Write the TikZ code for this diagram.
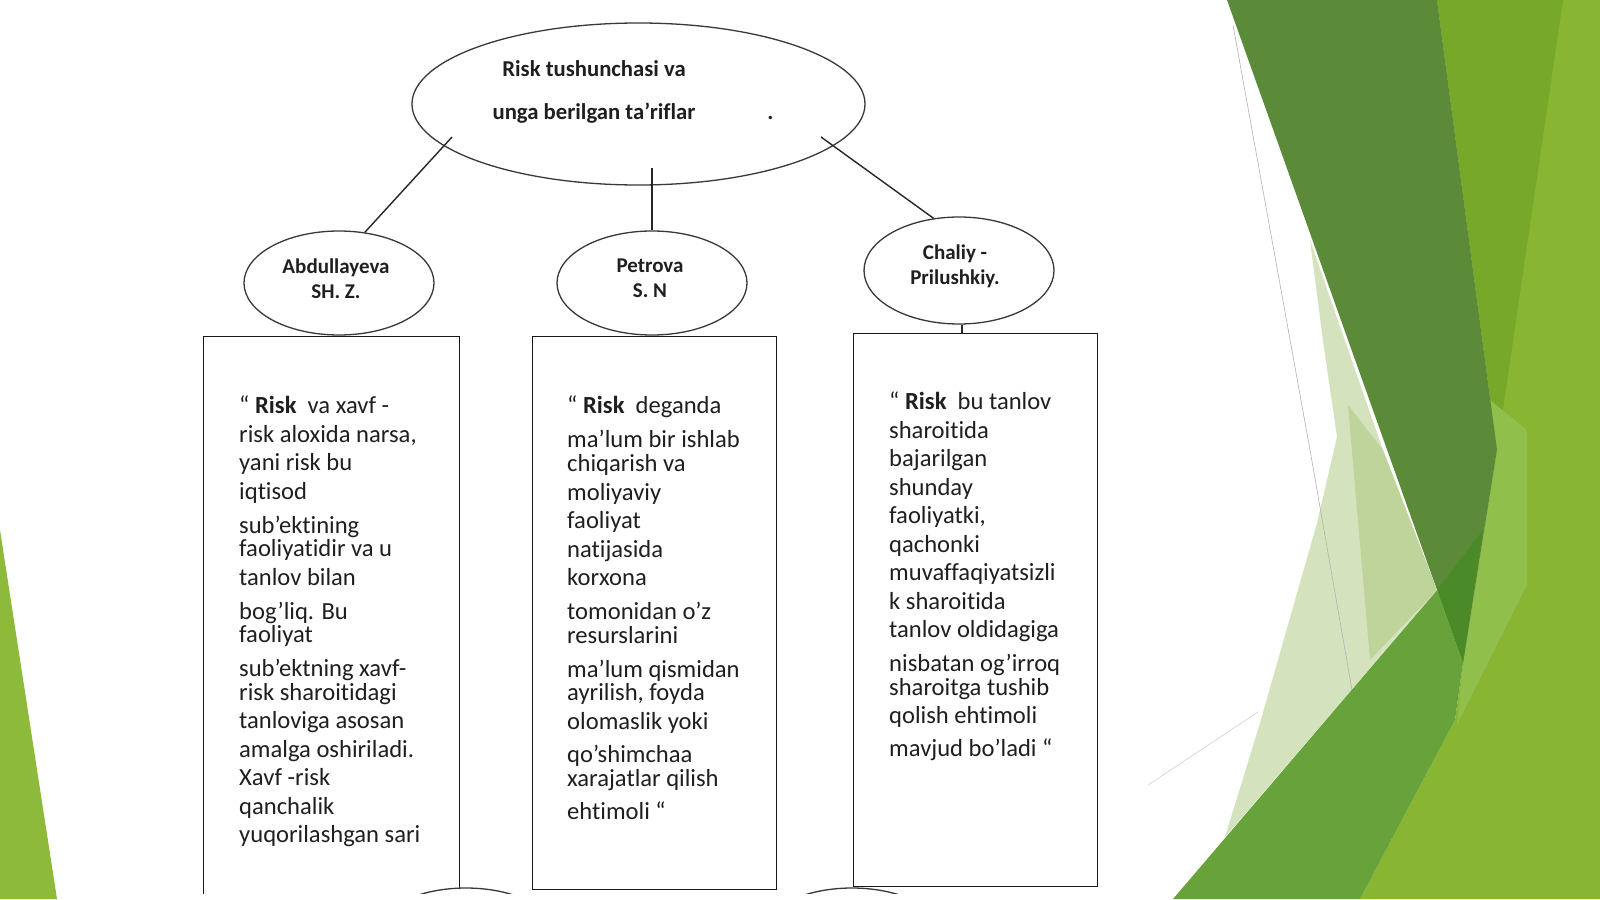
\documentclass[tikz,border=0pt]{standalone}
\usepackage{fontspec}
\setmainfont{Carlito}[Ligatures=CommonOff]
\usepackage{tikz}
\usetikzlibrary{shapes.geometric,positioning,calc}
\definecolor{leaflime}{HTML}{88B532}
\definecolor{leafolive}{HTML}{78A829}
\definecolor{leaflight}{HTML}{90BF4C}
\definecolor{leafdark}{HTML}{5B8B39}
\definecolor{leafdeep}{HTML}{4B8A28}
\definecolor{leafmid}{HTML}{67A23B}
\definecolor{leafpale}{HTML}{D4E3BE}
\definecolor{leafsage}{HTML}{BED49B}
\definecolor{leafedge}{HTML}{8DBA3B}
\tikzstyle{bubble} = [ellipse,draw=black!78,line width=1.3pt,fill=white,inner sep=0pt,minimum width=190pt,minimum height=104pt]
\tikzstyle{card} = [rectangle,draw=black!90,line width=1.3pt,anchor=north west,inner sep=0pt,minimum width=244pt,minimum height=553pt]
\tikzstyle{cardtext} = [anchor=north west,inner sep=0pt,align=left,text=black!88,font=\fontsize{24.6}{28.5}\selectfont]
\tikzstyle{who} = [align=center,inner sep=0pt,text=black!88,font=\bfseries\fontsize{21}{25}\selectfont]
\tikzstyle{link} = [line width=1.4pt,black!85]

\begin{document}
\begin{tikzpicture}[x=1pt,y=-1pt]
  \useasboundingbox (0,0) rectangle (1600,899);
  \fill [white] (0,0) rectangle (1600,899);
  % slide background
  \fill [leaflime] (1437,0) -- (1600,0) -- (1600,899) -- (1360,899) -- (1455,720) -- (1463,663) -- (1497,450) -- cycle;
  \fill [leafolive] (1437,0) -- (1563,0) -- (1497,450) -- cycle;
  \fill [leaflight] (1490,400) -- (1527,430) -- (1527,585) -- (1457,725) -- (1463,663) -- (1497,450) -- cycle;
  \fill [leafdark] (1227,0) -- (1437,0) -- (1497,450) -- (1463,663) -- (1437,590) -- cycle;
  \fill [leafdeep] (1437,590) -- (1483,530) -- (1463,663) -- cycle;
  \fill [leafmid] (1437,590) -- (1463,663) -- (1455,720) -- (1360,899) -- (1173,899) -- cycle;
  \fill [leafpale] (1310,240) -- (1383,450) -- (1437,590) -- (1225,837) -- (1260,723) -- (1317,523) -- (1337,437) -- (1323,341) -- cycle;
  \fill [leafsage] (1348,405) -- (1383,450) -- (1437,590) -- (1370,660) -- cycle;
  \draw [gray!60,line width=0.6pt] (1233,25) -- (1310,450) -- (1352,690);
  \draw [gray!35,line width=0.6pt] (1148,785) -- (1258,712);
  \fill [leafedge] (0,530) -- (57,899) -- (0,899) -- cycle;
  % diagram
  \begin{scope}
    \clip (0,0) rectangle (1600,893);
    \node [bubble,minimum width=453pt,minimum height=162pt] (top) at (638.5,104) {};
    \node [who,font=\bfseries\fontsize{22.7}{43.3}\selectfont,anchor=north] (title) at (594,60)
      {Risk tushunchasi va\\unga berilgan ta’riflar\rlap{\hspace{72pt}.}};
    \node [card,minimum width=256pt,minimum height=640pt] (b1) at (203,336) {};
    \node [card] (b2) at (532,336) {};
    \node [card] (b3) at (853,333) {};
    \node [bubble] (abd) at (339,283) {};
    \node [bubble] (pet) at (652,283) {};
    \node [bubble,minimum height=107pt] (cha) at (959,270.5) {};
    \node [bubble] (next1) at (466,940) {};
    \node [bubble] (next2) at (852,940) {};
    \node [who] (abdname) at ([xshift=-3pt,yshift=4.5pt]abd.center) {Abdullayeva\\SH. Z.};
    \node [who] (petname) at ([xshift=-2pt,yshift=4.5pt]pet.center) {Petrova\\S. N};
    \node [who] (chaname) at ([xshift=-4pt,yshift=4.5pt]cha.center) {Chaliy -\\Prilushkiy.};
    \coordinate (tl) at ($(top.center)+(-186.5,33)$);
    \coordinate (tm) at ($(top.center)+(13.5,64)$);
    \coordinate (tr) at ($(top.center)+(182.5,33)$);
    \draw [link] (tl) -- (abd.63);
    \draw [link] (tm) -- (pet.north);
    \draw [link] (tr) -- (cha.116);
    \draw [link] (cha.south) ++(3,0) coordinate (cs) -- (cs |- b3.north);
    \node [cardtext] (t1) at ([xshift=36pt,yshift=-60pt]b1.north west)
      {“ \textbf{Risk}\ \ va xavf -\\
       risk aloxida narsa,\\
       yani risk bu\\
       iqtisod\\[5.5pt]
       sub’ektining\\[-5pt]
       faoliyatidir va u\\
       tanlov bilan\\[5.5pt]
       bog’liq. Bu\\[-5pt]
       faoliyat\\[5.5pt]
       sub’ektning xavf-\\[-5pt]
       risk sharoitidagi\\
       tanloviga asosan\\
       amalga oshiriladi.\\
       Xavf -risk\\
       qanchalik\\
       yuqorilashgan sari};
    \node [cardtext] (t2) at ([xshift=35pt,yshift=-60pt]b2.north west)
      {“ \textbf{Risk}\ \ deganda\\[5pt]
       ma’lum bir ishlab\\[-4pt]
       chiqarish va\\
       moliyaviy\\
       faoliyat\\
       natijasida\\
       korxona\\[5.5pt]
       tomonidan o’z\\[-5pt]
       resurslarini\\[5.5pt]
       ma’lum qismidan\\[-5pt]
       ayrilish, foyda\\
       olomaslik yoki\\[5pt]
       qo’shimchaa\\[-5pt]
       xarajatlar qilish\\[5pt]
       ehtimoli “};
    \node [cardtext] (t3) at ([xshift=36pt,yshift=-59pt]b3.north west)
      {“ \textbf{Risk}\ \ bu tanlov\\
       sharoitida\\
       bajarilgan\\
       shunday\\
       faoliyatki,\\
       qachonki\\
       muvaffaqiyatsizli\\
       k sharoitida\\
       tanlov oldidagiga\\[5.5pt]
       nisbatan og’irroq\\[-5pt]
       sharoitga tushib\\
       qolish ehtimoli\\[4pt]
       mavjud bo’ladi “};
  \end{scope}
\end{tikzpicture}
\end{document}
